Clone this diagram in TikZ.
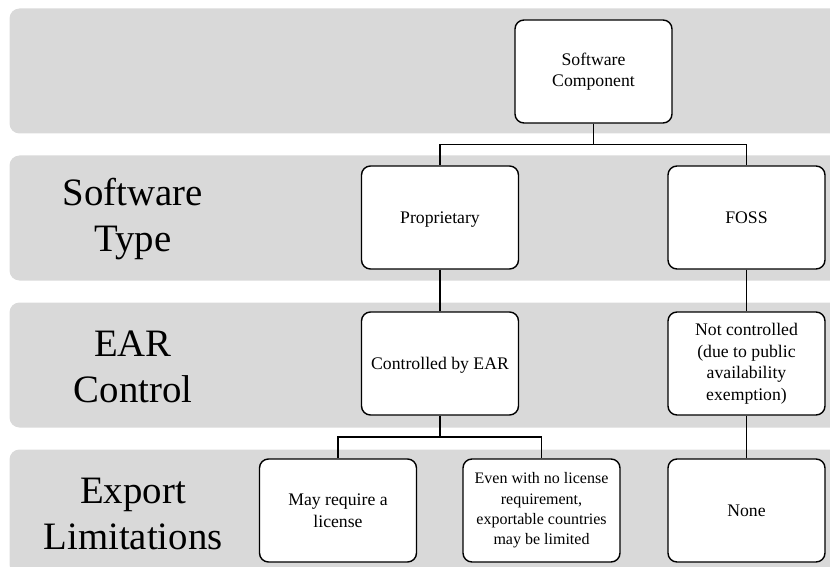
\documentclass[tikz,border=0pt]{standalone}
\usepackage{fontspec}
\setmainfont{Liberation Serif}
\usetikzlibrary{calc}
\definecolor{bandgray}{RGB}{217,217,217}
\begin{document}
\begin{tikzpicture}[x=1pt,y=-1pt,
  band/.style={fill=bandgray, rounded corners=10pt},
  box/.style={draw=black, line width=1.4pt, fill=white, rounded corners=9pt,
    minimum width=157pt, minimum height=103pt, align=center, inner sep=2pt,
    font=\fontsize{17.7}{21.5}\selectfont},
  oneline/.style={text height=15.6pt, text depth=3.8pt},
  lbl/.style={align=center, font=\fontsize{38.8}{46}\selectfont},
  link/.style={draw=black, line width=1.4pt}]
\useasboundingbox (0,0) rectangle (830,567);
\begin{scope}
\clip (0,0) rectangle (830,567);
\fill[band] (9.5,8.5) rectangle (870,133.5);
\fill[band] (9.5,155.5) rectangle (870,280.5);
\fill[band] (9.5,302.5) rectangle (870,427.5);
\fill[band] (9.5,449.5) rectangle (870,574.5);
\end{scope}

\node[lbl] (l2) at (133,219.5) {Software\\Type};
\node[lbl] (l3) at (133,366.5) {EAR\\Control};
\node[lbl] (l4) at (133,513.5) {Export\\Limitations};

\node[box] (sc) at (593.5,71.5) {Software\\Component};
\node[box, oneline] (prop) at (440,217.5) {Proprietary};
\node[box, oneline] (foss) at (746.5,217.5) {FOSS};
\node[box, oneline] (ctrl) at (440,363.5) {Controlled by EAR};
\node[box] (nctrl) at (746.5,363.5) {Not controlled\\(due to public\\availability\\exemption)};
\node[box] (lic) at (338,510.5) {May require a\\license};
\node[box, font=\fontsize{16}{20.4}\selectfont] (even) at (541.5,510.5) {Even with no license\\requirement,\\exportable countries\\may be limited};
\node[box, oneline] (none) at (746.5,510.5) {None};

\draw[link] (sc.south) |- ($(sc.south)!.5!(prop.north)$) -| (prop.north);
\draw[link] (sc.south) |- ($(sc.south)!.5!(foss.north)$) -| (foss.north);
\draw[link] (prop.south) -- (ctrl.north);
\draw[link] (foss.south) -- (nctrl.north);
\draw[link] (ctrl.south) |- ($(ctrl.south)!.5!(lic.north)$) -| (lic.north);
\draw[link] (ctrl.south) |- ($(ctrl.south)!.5!(even.north)$) -| (even.north);
\draw[link] (nctrl.south) -- (none.north);
\end{tikzpicture}
\end{document}
